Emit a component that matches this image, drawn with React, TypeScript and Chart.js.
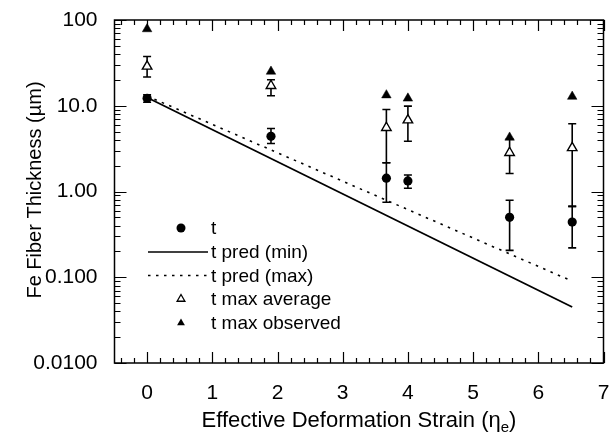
import React, { useEffect, useRef } from "react";
import { Chart, registerables } from "chart.js";
Chart.register(...registerables);

// ---- data ----
const strain = [0, 1.9, 3.67, 4.0, 5.56, 6.52];
const tVals = [12.2, 4.4, 1.43, 1.33, 0.5, 0.44];
const tLow = [11.0, 3.63, 0.75, 1.09, 0.206, 0.22];
const tHigh = [13.4, 5.43, 2.16, 1.56, 0.79, 0.67];
const tMaxAvg = [28.8, 17.1, 5.54, 6.8, 2.83, 3.23];
const tMaxAvgLow = [21.6, 13.1, 2.16, 3.86, 1.62, 0.67];
const tMaxAvgHigh = [37.6, 20.1, 9.05, 9.9, 4.1, 6.17];
const tMaxObs = [78.5, 25.1, 13.3, 12.2, 4.27, 12.8];
const predStrain = [0, 6.52];
const predMin = [12.5, 0.045];
const predMax = [13.0, 0.09];
const xTicks = [0, 1, 2, 3, 4, 5, 6, 7];
const yTicks = [0.01, 0.1, 1, 10, 100];
const yTickLabels = ["0.0100", "0.100", "1.00", "10.0", "100"];
const legendLabels = ["t", "t pred (min)", "t pred (max)", "t max average", "t max observed"];
const xTitle = "Effective Deformation Strain (\u03b7";
const xTitleSub = "e";
const yTitle = "Fe Fiber Thickness (\u00b5m)";

const FONT = "'Liberation Sans', Arial, Helvetica, sans-serif";

const pts = (xs: number[], ys: number[]) => xs.map((x, i) => ({ x, y: ys[i] }));

const framePlugin = {
  id: "frameTicks",
  beforeDatasetsDraw(chart: any) {
    const ctx = chart.ctx;
    const xs = chart.scales.x;
    const ys = chart.scales.y;
    ctx.save();
    ctx.strokeStyle = "#000";
    ctx.lineWidth = 1.6;
    const bars = [
      [tLow, tHigh],
      [tMaxAvgLow, tMaxAvgHigh],
    ];
    for (const [lo, hi] of bars) {
      strain.forEach((x, i) => {
        const px = xs.getPixelForValue(x);
        const y1 = ys.getPixelForValue(lo[i]);
        const y2 = ys.getPixelForValue(hi[i]);
        ctx.beginPath();
        ctx.moveTo(px, y1);
        ctx.lineTo(px, y2);
        ctx.moveTo(px - 4, y1);
        ctx.lineTo(px + 4, y1);
        ctx.moveTo(px - 4, y2);
        ctx.lineTo(px + 4, y2);
        ctx.stroke();
      });
    }
    ctx.restore();
  },
  afterDraw(chart: any) {
    const ctx = chart.ctx;
    const a = chart.chartArea;
    const xs = chart.scales.x;
    const ys = chart.scales.y;
    ctx.save();
    ctx.strokeStyle = "#000";
    ctx.lineWidth = 1.5;
    ctx.strokeRect(a.left, a.top, a.right - a.left, a.bottom - a.top);
    ctx.lineWidth = 1.2;
    ctx.beginPath();
    // x ticks
    const x0 = Math.ceil(xs.min / 0.2 - 1e-9);
    const x1 = Math.floor(xs.max / 0.2 + 1e-9);
    for (let i = x0; i <= x1; i++) {
      const v = i * 0.2;
      const major = Math.abs(v - Math.round(v)) < 1e-6;
      const len = major ? 11 : 5;
      const px = Math.round(xs.getPixelForValue(v)) + 0.5;
      ctx.moveTo(px, a.bottom);
      ctx.lineTo(px, a.bottom - len);
      ctx.moveTo(px, a.top);
      ctx.lineTo(px, a.top + len);
    }
    // y ticks
    for (let e = -2; e <= 2; e++) {
      for (let m = 1; m <= 9; m++) {
        const v = m * Math.pow(10, e);
        if (v < ys.min * 0.999 || v > ys.max * 1.001) continue;
        const major = m === 1;
        const len = major ? 12 : 6;
        const py = Math.round(ys.getPixelForValue(v)) + 0.5;
        ctx.moveTo(a.left, py);
        ctx.lineTo(a.left + len, py);
        ctx.moveTo(a.right, py);
        ctx.lineTo(a.right - len, py);
      }
    }
    ctx.stroke();

    // y title
    ctx.fillStyle = "#000";
    ctx.save();
    ctx.translate(35, 190);
    ctx.rotate(-Math.PI / 2);
    ctx.font = `20px ${FONT}`;
    ctx.textAlign = "center";
    ctx.textBaseline = "middle";
    ctx.fillText(yTitle, 0, 0);
    ctx.restore();

    // x title with subscript
    ctx.font = `22px ${FONT}`;
    const w1 = ctx.measureText(xTitle).width;
    ctx.font = `15px ${FONT}`;
    const w2 = ctx.measureText(xTitleSub).width;
    ctx.font = `22px ${FONT}`;
    const w3 = ctx.measureText(")").width;
    const total = w1 + w2 + w3;
    let sx = (a.left + a.right) / 2 - total / 2;
    const base = 427;
    ctx.textAlign = "left";
    ctx.textBaseline = "alphabetic";
    ctx.fillText(xTitle, sx, base);
    sx += w1;
    ctx.font = `15px ${FONT}`;
    ctx.fillText(xTitleSub, sx, base + 5);
    sx += w2;
    ctx.font = `22px ${FONT}`;
    ctx.fillText(")", sx, base);

    // legend
    const rowY = [228, 252, 275.5, 299, 323];
    const mx = 181;
    ctx.font = `19px ${FONT}`;
    ctx.textBaseline = "middle";
    legendLabels.forEach((lab, i) => {
      const y = rowY[i];
      ctx.fillStyle = "#000";
      ctx.strokeStyle = "#000";
      if (i === 0) {
        ctx.beginPath();
        ctx.arc(mx, y, 4.5, 0, Math.PI * 2);
        ctx.fill();
      } else if (i === 1 || i === 2) {
        ctx.beginPath();
        ctx.lineWidth = 1.6;
        ctx.setLineDash(i === 2 ? [2.5, 5.5] : []);
        ctx.moveTo(148, y);
        ctx.lineTo(208, y);
        ctx.stroke();
        ctx.setLineDash([]);
      } else {
        const r = 4.5;
        ctx.beginPath();
        ctx.moveTo(mx, y - r);
        ctx.lineTo(mx + r * 0.866, y + r * 0.5);
        ctx.lineTo(mx - r * 0.866, y + r * 0.5);
        ctx.closePath();
        if (i === 4) ctx.fill();
        else {
          ctx.lineWidth = 1.3;
          ctx.fillStyle = "#fff";
          ctx.fill();
          ctx.stroke();
        }
      }
      ctx.fillStyle = "#000";
      ctx.fillText(lab, 211, y + 1);
    });
    ctx.restore();
  },
};

export default function App() {
  const ref = useRef<HTMLCanvasElement | null>(null);
  useEffect(() => {
    if (!ref.current) return;
    const chart = new Chart(ref.current, {
      type: "scatter",
      data: {
        datasets: [
          {
            label: legendLabels[1],
            type: "line",
            data: pts(predStrain, predMin),
            borderColor: "#000",
            borderWidth: 1.8,
            pointRadius: 0,
            fill: false,
          } as any,
          {
            label: legendLabels[2],
            type: "line",
            data: pts(predStrain, predMax),
            borderColor: "#000",
            borderWidth: 1.6,
            borderDash: [2.5, 5.5],
            pointRadius: 0,
            fill: false,
          } as any,
          {
            label: legendLabels[0],
            data: pts(strain, tVals),
            pointStyle: "circle",
            pointRadius: 4.6,
            backgroundColor: "#000",
            borderColor: "#000",
            borderWidth: 0,
          },
          {
            label: legendLabels[3],
            data: pts(strain, tMaxAvg),
            pointStyle: "triangle",
            pointRadius: 5.5,
            backgroundColor: "#fff",
            borderColor: "#000",
            borderWidth: 1.4,
          },
          {
            label: legendLabels[4],
            data: pts(strain, tMaxObs),
            pointStyle: "triangle",
            pointRadius: 5.5,
            backgroundColor: "#000",
            borderColor: "#000",
            borderWidth: 0.5,
          },
        ],
      },
      options: {
        animation: false,
        responsive: false,
        events: [],
        layout: { padding: { top: 20, right: 12.5, left: 0, bottom: 0 } },
        plugins: { legend: { display: false }, tooltip: { enabled: false } },
        scales: {
          x: {
            type: "linear",
            min: -0.5,
            max: 7,
            grid: { display: false, drawTicks: false },
            border: { display: false },
            afterBuildTicks: (s: any) => {
              s.ticks = xTicks.map((v) => ({ value: v }));
            },
            afterFit: (s: any) => {
              s.height = 72;
              s.paddingLeft = 0;
              s.paddingRight = 0;
              s.paddingTop = 0;
              s.paddingBottom = 0;
            },
            ticks: {
              autoSkip: false,
              maxRotation: 0,
              padding: 18,
              color: "#000",
              font: { family: FONT, size: 21 },
              callback: (v: any) => String(v),
            },
          },
          y: {
            type: "logarithmic",
            min: 0.01,
            max: 100,
            grid: { display: false, drawTicks: false },
            border: { display: false },
            afterBuildTicks: (s: any) => {
              s.ticks = yTicks.map((v) => ({ value: v }));
            },
            afterFit: (s: any) => {
              s.width = 114.5;
              s.paddingLeft = 0;
              s.paddingRight = 0;
              s.paddingTop = 0;
              s.paddingBottom = 0;
            },
            ticks: {
              autoSkip: false,
              padding: 17,
              color: "#000",
              font: { family: FONT, size: 21 },
              callback: (v: any) => {
                const i = yTicks.findIndex((t) => Math.abs(t - v) / t < 1e-6);
                return i >= 0 ? yTickLabels[i] : "";
              },
            },
          },
        },
      },
      plugins: [framePlugin],
    });
    return () => chart.destroy();
  }, []);
  return (
    <div style={{ position: "absolute", left: 0, top: 0, width: 616, height: 435, background: "#fff" }}>
      <canvas ref={ref} width={616} height={435} style={{ display: "block" }} />
    </div>
  );
}
